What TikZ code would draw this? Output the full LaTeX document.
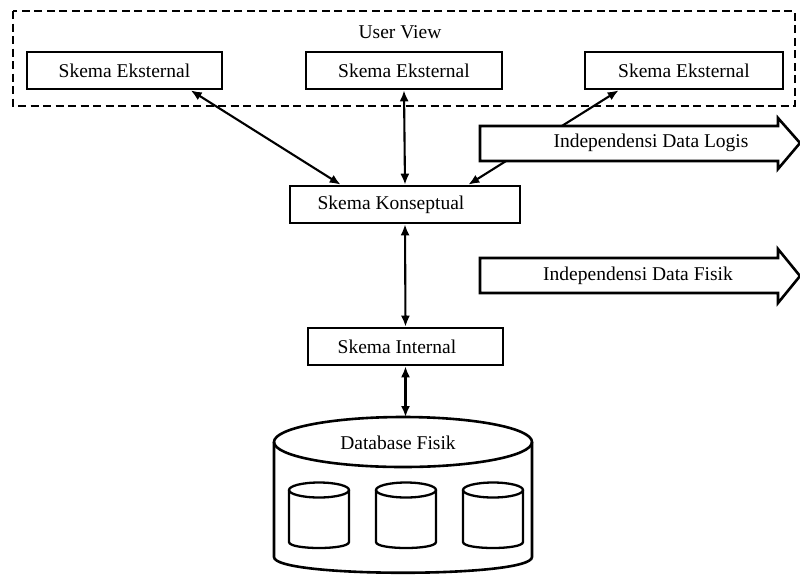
\documentclass[tikz,border=0pt]{standalone}
\usepackage{fontspec}
\setmainfont{Liberation Serif}
\usetikzlibrary{arrows.meta,calc}
\newcommand\diagfont{\fontsize{19.5}{23}\selectfont}
\begin{document}
\begin{tikzpicture}[x=1pt,y=-1pt,
  schema/.style={draw, line width=2.6pt, minimum height=37pt, inner sep=0pt, fill=white, font=\diagfont},
  lbl/.style={font=\diagfont, inner sep=0pt},
  link/.style={line width=2.1pt, {Latex[length=11pt,width=9pt]}-{Latex[length=11pt,width=9pt]}},
  bigarrow/.style={draw, line width=2.6pt, fill=white, line join=miter},
  dbline/.style={line width=2.6pt}
]
\useasboundingbox (0,0) rectangle (800,574);

% external level
\draw[line width=2.8pt, dash pattern=on 8pt off 4.5pt] (13,11) rectangle (795,106);
\node[lbl] (uview) at (400,32) {User View};
\node[schema, minimum width=195pt] (ext1) at (124.5,70.5) {Skema Eksternal};
\node[schema, minimum width=196pt] (ext2) at (404,70.5) {Skema Eksternal};
\node[schema, minimum width=198pt] (ext3) at (684,70.5) {Skema Eksternal};

% conceptual and internal levels
\node[schema, minimum width=230pt] (konsep) at (405,204.5) {};
\node[lbl] (konseptxt) at (391,204.5) {Skema Konseptual};
\node[schema, minimum width=195pt] (internal) at (405.5,346.5) {};
\node[lbl] (internaltxt) at (397,346.5) {Skema Internal};

% mappings between levels
\draw[link] ($(ext1.south west)+(165,0)$) -- ($(konsep.north west)+(52,0)$);
\draw[link] (ext2.south) -- (konsep.north);
\draw[link] ($(ext3.south west)+(35,0)$) -- ($(konsep.north east)+(-53,0)$);
\draw[link] (konsep.south) -- (internal.north);
\coordinate (dbtop) at (405.5,417);
\draw[link] (internal.south) -- (dbtop);

% independence arrows
\draw[bigarrow] (480,126) -- (778,126) -- (778,118) -- (800,143) -- (778,169) -- (778,161) -- (480,161) -- cycle;
\node[lbl] (logis) at (651,143) {Independensi Data Logis};
\draw[bigarrow] (480,258) -- (778,258) -- (778,249) -- (800,276) -- (778,303) -- (778,293) -- (480,293) -- cycle;
\node[lbl] (fisik) at (638,276) {Independensi Data Fisik};

% physical database
\draw[dbline, fill=white] (274,442) -- (274,557) .. controls (274,578) and (532,578) .. (532,557) -- (532,442);
\draw[dbline] (403,442) ellipse [x radius=129, y radius=25];
\node[lbl] (dblabel) at (398,443) {Database Fisik};
\foreach \cx in {319,406,493} {
  \draw[line width=2.3pt] (\cx-30,490) -- (\cx-30,542) .. controls (\cx-30,550) and (\cx+30,550) .. (\cx+30,542) -- (\cx+30,490);
  \draw[line width=2.3pt] (\cx,490) ellipse [x radius=30, y radius=7.5];
}
\end{tikzpicture}
\end{document}
